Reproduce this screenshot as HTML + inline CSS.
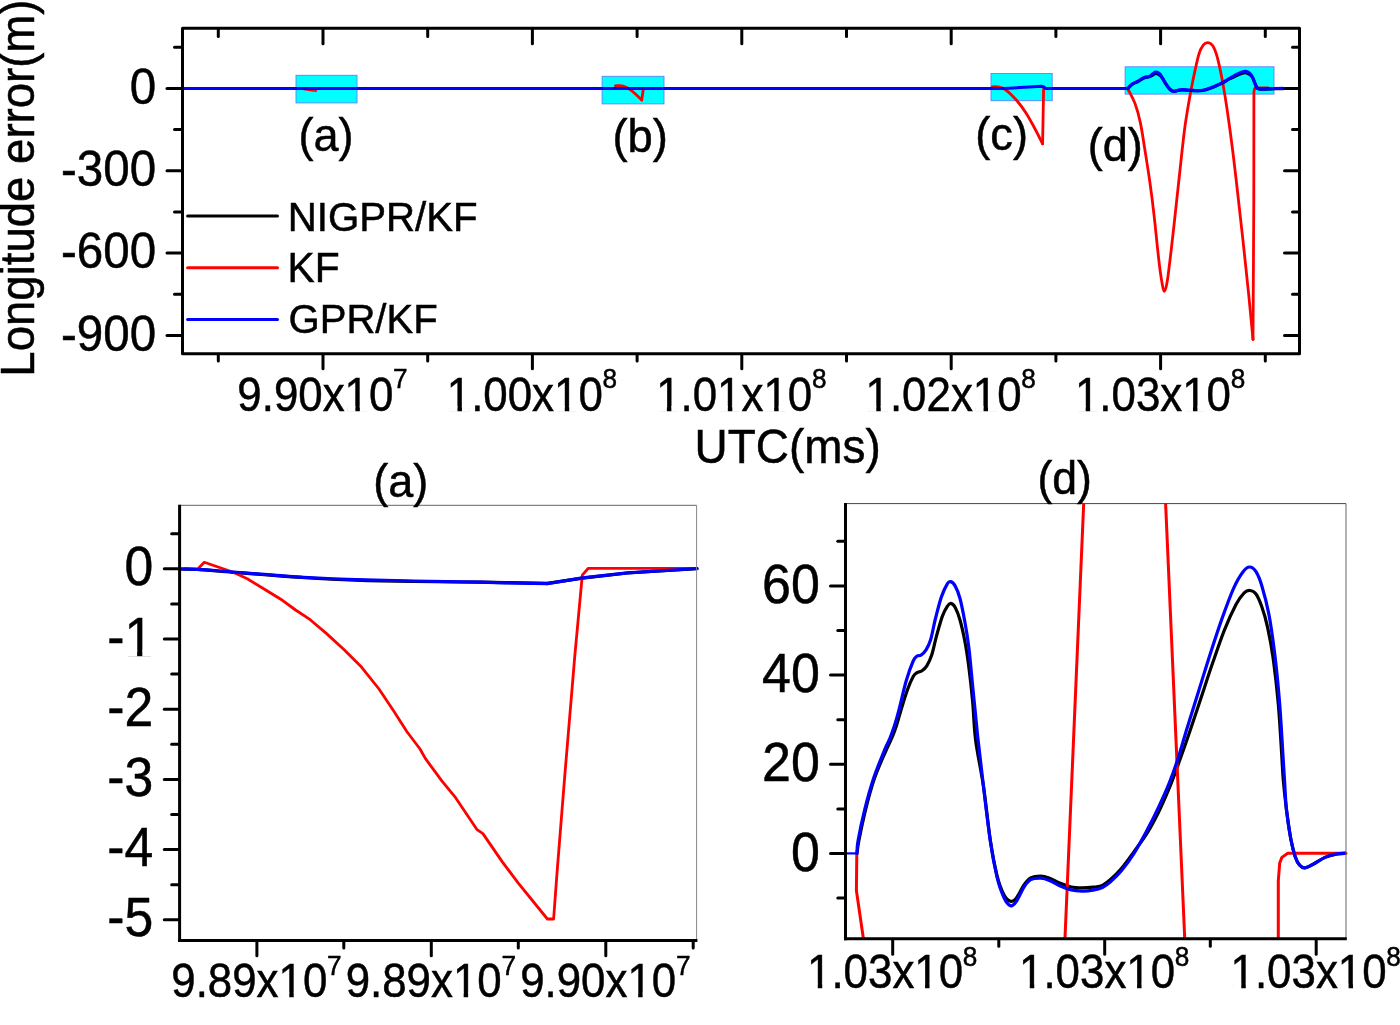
<!DOCTYPE html>
<html><head><meta charset="utf-8"><title>chart</title>
<style>html,body{margin:0;padding:0;background:#fff}svg{display:block;will-change:transform}text{font-family:"Liberation Sans",sans-serif;font-kerning:none}</style></head>
<body>
<svg width="1400" height="1025" viewBox="0 0 1400 1025" font-family="Liberation Sans, sans-serif" style="font-kerning:none">
<defs><clipPath id="cpA"><rect x="181" y="505" width="515.5" height="434"/></clipPath><clipPath id="cpD"><rect x="847" y="503.5" width="499" height="434"/></clipPath><clipPath id="cpT"><rect x="184" y="30" width="1114" height="322"/></clipPath></defs>
<rect width="1400" height="1025" fill="#fff"/>
<rect x="296" y="75.3" width="61.0" height="27.6" fill="#00ffff" stroke="#5f7fff" stroke-width="0.9"/>
<rect x="602.1" y="76.3" width="61.9" height="27.6" fill="#00ffff" stroke="#5f7fff" stroke-width="0.9"/>
<rect x="991" y="73.5" width="61.2" height="27.2" fill="#00ffff" stroke="#5f7fff" stroke-width="0.9"/>
<rect x="1125.1" y="66.8" width="148.9" height="27.3" fill="#00ffff" stroke="#5f7fff" stroke-width="0.9"/>
<polyline points="304.0,89.6 310.0,90.6 316.0,91.3 316.5,89.5" fill="none" stroke="#ff0000" stroke-width="1.5" stroke-linejoin="round" stroke-linecap="round"/>
<path d="M615.4,85.8C616.2,85.8 618.2,85.4 620.0,85.6C621.8,85.8 624.0,86.3 626.0,87.2C628.0,88.1 630.2,89.6 632.0,91.0C633.8,92.4 635.4,94.0 637.0,95.5C638.6,97.0 640.9,99.2 641.7,100.0" fill="none" stroke="#ff0000" stroke-width="2.8" stroke-linejoin="round" stroke-linecap="round"/>
<polyline points="641.7,100.0 643.4,88.5" fill="none" stroke="#ff0000" stroke-width="2.8" stroke-linejoin="round" stroke-linecap="round"/>
<path d="M992.2,87.0C992.8,86.9 994.7,86.5 996.0,86.6C997.3,86.6 998.7,86.9 1000.0,87.3C1001.3,87.7 1002.3,87.8 1004.0,88.8C1005.7,89.8 1007.7,91.3 1010.0,93.5C1012.3,95.7 1015.3,98.8 1018.0,102.0C1020.7,105.2 1023.3,108.8 1026.0,113.0C1028.7,117.2 1031.2,121.9 1034.0,127.0C1036.8,132.1 1041.2,141.0 1042.6,143.8" fill="none" stroke="#ff0000" stroke-width="2.8" stroke-linejoin="round" stroke-linecap="round"/>
<polyline points="1042.6,143.8 1043.6,88.5" fill="none" stroke="#ff0000" stroke-width="2.8" stroke-linejoin="round" stroke-linecap="round"/>
<path d="M1127.9,89.0C1129.1,91.4 1132.9,97.9 1135.0,103.6C1137.1,109.2 1138.8,115.4 1140.4,122.9C1142.0,130.4 1143.1,138.6 1144.7,148.6C1146.3,158.6 1148.4,171.6 1150.0,183.0C1151.6,194.4 1152.9,204.8 1154.3,217.3C1155.7,229.8 1157.3,247.3 1158.6,258.0C1159.8,268.7 1160.8,276.1 1161.8,281.6C1162.8,287.2 1163.5,291.3 1164.4,291.3C1165.3,291.3 1166.0,288.9 1167.2,281.6C1168.4,274.3 1170.1,259.5 1171.5,247.3C1172.9,235.2 1174.4,221.6 1175.8,208.7C1177.2,195.8 1178.6,182.9 1180.0,170.0C1181.4,157.1 1182.9,142.6 1184.3,131.5C1185.7,120.4 1187.2,111.9 1188.6,103.6C1190.0,95.3 1191.0,89.7 1192.7,81.5C1194.4,73.3 1197.0,60.6 1198.8,54.5C1200.5,48.4 1201.8,46.9 1203.4,44.9C1205.0,42.9 1206.5,42.5 1208.1,42.6C1209.7,42.8 1211.2,43.2 1212.8,45.8C1214.4,48.4 1215.7,51.2 1217.5,58.1C1219.3,65.0 1221.4,75.0 1223.5,87.0C1225.6,99.0 1227.9,114.5 1230.0,130.0C1232.1,145.5 1234.2,162.3 1236.2,180.0C1238.3,197.7 1240.4,217.0 1242.5,236.2C1244.6,255.5 1247.0,278.4 1248.8,295.6C1250.5,312.8 1252.3,332.1 1253.0,339.4" fill="none" stroke="#ff0000" stroke-width="2.8" stroke-linejoin="round" stroke-linecap="round"/>
<polyline points="1253.0,339.4 1253.8,200.0 1253.9,92.0 1254.6,88.6 1256.5,87.9 1268.0,87.9" fill="none" stroke="#ff0000" stroke-width="2.8" stroke-linejoin="round" stroke-linecap="round"/>
<polyline points="184.0,88.5 1004.0,88.5 1020.0,87.6 1042.0,86.3 1044.0,87.0 1045.5,88.5 1127.9,88.5" fill="none" stroke="#0000ff" stroke-width="3" stroke-linejoin="round" stroke-linecap="butt"/>
<path d="M1127.9,88.5C1128.7,87.7 1130.0,85.8 1132.1,84.4C1134.2,83.0 1135.8,82.7 1138.2,81.4C1140.6,80.1 1142.1,78.7 1144.3,77.8C1146.5,76.9 1147.4,77.4 1149.1,76.9C1150.8,76.4 1151.5,75.8 1152.8,75.1C1154.1,74.4 1154.5,73.5 1155.8,73.5C1157.1,73.5 1158.2,74.1 1159.5,75.1C1160.8,76.1 1161.2,76.5 1162.5,78.4C1163.8,80.3 1164.6,82.2 1166.1,84.4C1167.6,86.6 1168.3,87.9 1169.8,89.3C1171.3,90.7 1171.9,91.1 1173.4,91.4C1174.9,91.7 1175.4,91.1 1177.1,90.8C1178.8,90.5 1179.2,90.0 1181.9,89.9C1184.6,89.8 1186.8,90.3 1190.4,90.5C1194.0,90.7 1196.7,91.0 1200.1,90.8C1203.5,90.6 1204.5,90.1 1207.4,89.3C1210.3,88.5 1211.8,87.8 1214.7,86.6C1217.6,85.4 1219.1,84.7 1222.0,83.2C1224.9,81.7 1226.4,80.5 1229.3,79.0C1232.2,77.5 1234.2,76.8 1236.6,75.7C1239.0,74.6 1239.6,74.1 1241.4,73.5C1243.2,72.9 1244.1,72.5 1245.7,72.7C1247.3,72.9 1248.0,73.4 1249.3,74.3C1250.6,75.2 1251.3,75.4 1252.4,77.2C1253.5,79.0 1253.8,81.0 1254.8,83.2C1255.8,85.4 1256.0,86.9 1257.2,88.1C1258.4,89.3 1258.7,89.1 1260.9,89.3C1263.1,89.5 1265.3,89.2 1268.1,89.1C1270.9,89.0 1272.0,88.9 1275.0,88.8C1278.0,88.7 1281.4,88.7 1283.0,88.7" fill="none" stroke="#000000" stroke-width="3" stroke-linejoin="round" stroke-linecap="round"/>
<path d="M1127.9,88.2C1128.7,87.4 1130.0,85.5 1132.1,84.1C1134.2,82.7 1135.8,82.4 1138.2,81.1C1140.6,79.8 1142.1,78.4 1144.3,77.5C1146.5,76.6 1147.4,77.3 1149.1,76.6C1150.8,75.9 1151.5,74.7 1152.8,73.8C1154.1,72.9 1154.5,72.2 1155.8,72.2C1157.1,72.2 1158.2,72.6 1159.5,73.8C1160.8,75.0 1161.2,76.0 1162.5,78.1C1163.8,80.2 1164.6,81.9 1166.1,84.1C1167.6,86.3 1168.3,87.6 1169.8,89.0C1171.3,90.4 1171.9,90.8 1173.4,91.1C1174.9,91.4 1175.4,90.8 1177.1,90.5C1178.8,90.2 1179.2,89.7 1181.9,89.6C1184.6,89.5 1186.8,90.0 1190.4,90.2C1194.0,90.4 1196.7,90.7 1200.1,90.5C1203.5,90.3 1204.5,89.8 1207.4,89.0C1210.3,88.2 1211.8,87.5 1214.7,86.3C1217.6,85.1 1219.1,84.4 1222.0,82.9C1224.9,81.4 1226.4,80.4 1229.3,78.7C1232.2,77.0 1234.2,75.7 1236.6,74.4C1239.0,73.1 1239.6,72.8 1241.4,72.2C1243.2,71.6 1244.1,71.2 1245.7,71.4C1247.3,71.6 1248.0,71.9 1249.3,73.0C1250.6,74.1 1251.3,74.9 1252.4,76.9C1253.5,78.9 1253.8,80.7 1254.8,82.9C1255.8,85.1 1256.0,86.6 1257.2,87.8C1258.4,89.0 1258.7,88.8 1260.9,89.0C1263.1,89.2 1265.3,88.9 1268.1,88.8C1270.9,88.7 1272.0,88.6 1275.0,88.5C1278.0,88.4 1281.4,88.4 1283.0,88.4" fill="none" stroke="#0000ff" stroke-width="3.2" stroke-linejoin="round" stroke-linecap="round"/>
<rect x="182.5" y="28.3" width="1117.0" height="325.4" fill="none" stroke="#000" stroke-width="3" stroke-linejoin="round"/>
<line x1="167.00" y1="88.40" x2="182.00" y2="88.40" stroke="#000" stroke-width="3" stroke-linecap="round"/>
<line x1="1284.50" y1="88.40" x2="1299.00" y2="88.40" stroke="#000" stroke-width="3" stroke-linecap="round"/>
<line x1="167.00" y1="170.75" x2="182.00" y2="170.75" stroke="#000" stroke-width="3" stroke-linecap="round"/>
<line x1="1284.50" y1="170.75" x2="1299.00" y2="170.75" stroke="#000" stroke-width="3" stroke-linecap="round"/>
<line x1="167.00" y1="253.10" x2="182.00" y2="253.10" stroke="#000" stroke-width="3" stroke-linecap="round"/>
<line x1="1284.50" y1="253.10" x2="1299.00" y2="253.10" stroke="#000" stroke-width="3" stroke-linecap="round"/>
<line x1="167.00" y1="335.45" x2="182.00" y2="335.45" stroke="#000" stroke-width="3" stroke-linecap="round"/>
<line x1="1284.50" y1="335.45" x2="1299.00" y2="335.45" stroke="#000" stroke-width="3" stroke-linecap="round"/>
<line x1="174.50" y1="47.23" x2="182.00" y2="47.23" stroke="#000" stroke-width="3" stroke-linecap="round"/>
<line x1="1292.50" y1="47.23" x2="1299.00" y2="47.23" stroke="#000" stroke-width="3" stroke-linecap="round"/>
<line x1="174.50" y1="129.58" x2="182.00" y2="129.58" stroke="#000" stroke-width="3" stroke-linecap="round"/>
<line x1="1292.50" y1="129.58" x2="1299.00" y2="129.58" stroke="#000" stroke-width="3" stroke-linecap="round"/>
<line x1="174.50" y1="211.92" x2="182.00" y2="211.92" stroke="#000" stroke-width="3" stroke-linecap="round"/>
<line x1="1292.50" y1="211.92" x2="1299.00" y2="211.92" stroke="#000" stroke-width="3" stroke-linecap="round"/>
<line x1="174.50" y1="294.27" x2="182.00" y2="294.27" stroke="#000" stroke-width="3" stroke-linecap="round"/>
<line x1="1292.50" y1="294.27" x2="1299.00" y2="294.27" stroke="#000" stroke-width="3" stroke-linecap="round"/>
<line x1="323.00" y1="43.70" x2="323.00" y2="28.80" stroke="#000" stroke-width="3" stroke-linecap="round"/>
<line x1="323.00" y1="368.70" x2="323.00" y2="354.20" stroke="#000" stroke-width="3" stroke-linecap="round"/>
<line x1="532.40" y1="43.70" x2="532.40" y2="28.80" stroke="#000" stroke-width="3" stroke-linecap="round"/>
<line x1="532.40" y1="368.70" x2="532.40" y2="354.20" stroke="#000" stroke-width="3" stroke-linecap="round"/>
<line x1="741.80" y1="43.70" x2="741.80" y2="28.80" stroke="#000" stroke-width="3" stroke-linecap="round"/>
<line x1="741.80" y1="368.70" x2="741.80" y2="354.20" stroke="#000" stroke-width="3" stroke-linecap="round"/>
<line x1="951.20" y1="43.70" x2="951.20" y2="28.80" stroke="#000" stroke-width="3" stroke-linecap="round"/>
<line x1="951.20" y1="368.70" x2="951.20" y2="354.20" stroke="#000" stroke-width="3" stroke-linecap="round"/>
<line x1="1160.60" y1="43.70" x2="1160.60" y2="28.80" stroke="#000" stroke-width="3" stroke-linecap="round"/>
<line x1="1160.60" y1="368.70" x2="1160.60" y2="354.20" stroke="#000" stroke-width="3" stroke-linecap="round"/>
<line x1="218.30" y1="36.50" x2="218.30" y2="28.80" stroke="#000" stroke-width="3" stroke-linecap="round"/>
<line x1="218.30" y1="361.10" x2="218.30" y2="354.20" stroke="#000" stroke-width="3" stroke-linecap="round"/>
<line x1="427.70" y1="36.50" x2="427.70" y2="28.80" stroke="#000" stroke-width="3" stroke-linecap="round"/>
<line x1="427.70" y1="361.10" x2="427.70" y2="354.20" stroke="#000" stroke-width="3" stroke-linecap="round"/>
<line x1="637.10" y1="36.50" x2="637.10" y2="28.80" stroke="#000" stroke-width="3" stroke-linecap="round"/>
<line x1="637.10" y1="361.10" x2="637.10" y2="354.20" stroke="#000" stroke-width="3" stroke-linecap="round"/>
<line x1="846.50" y1="36.50" x2="846.50" y2="28.80" stroke="#000" stroke-width="3" stroke-linecap="round"/>
<line x1="846.50" y1="361.10" x2="846.50" y2="354.20" stroke="#000" stroke-width="3" stroke-linecap="round"/>
<line x1="1055.90" y1="36.50" x2="1055.90" y2="28.80" stroke="#000" stroke-width="3" stroke-linecap="round"/>
<line x1="1055.90" y1="361.10" x2="1055.90" y2="354.20" stroke="#000" stroke-width="3" stroke-linecap="round"/>
<line x1="1265.30" y1="36.50" x2="1265.30" y2="28.80" stroke="#000" stroke-width="3" stroke-linecap="round"/>
<line x1="1265.30" y1="361.10" x2="1265.30" y2="354.20" stroke="#000" stroke-width="3" stroke-linecap="round"/>
<text transform="translate(129.72,103.60)  scale(0.9450,1)" font-size="50.30" fill="#000" stroke="#000" stroke-width="0.5">0</text>
<text transform="translate(61.02,185.95)  scale(0.9450,1)" font-size="50.30" fill="#000" stroke="#000" stroke-width="0.5">-300</text>
<text transform="translate(61.02,268.30)  scale(0.9450,1)" font-size="50.30" fill="#000" stroke="#000" stroke-width="0.5">-600</text>
<text transform="translate(61.02,350.65)  scale(0.9450,1)" font-size="50.30" fill="#000" stroke="#000" stroke-width="0.5">-900</text>
<text transform="translate(237.34,410.90)  scale(0.9137,1)" font-size="48.00" fill="#000" stroke="#000" stroke-width="0.5">9.90x10</text>
<rect x="347.17" y="406.01" width="8.19" height="5.79" fill="#fff"/>
<rect x="359.83" y="406.01" width="7.85" height="5.79" fill="#fff"/>
<text transform="translate(393.11,388.30)  scale(0.9500,1)" font-size="27.60" fill="#000" stroke="#000" stroke-width="0.5">7</text>
<text transform="translate(446.74,410.90)  scale(0.9137,1)" font-size="48.00" fill="#000" stroke="#000" stroke-width="0.5">1.00x10</text>
<rect x="449.28" y="406.01" width="8.19" height="5.79" fill="#fff"/>
<rect x="461.95" y="406.01" width="7.85" height="5.79" fill="#fff"/>
<rect x="556.57" y="406.01" width="8.19" height="5.79" fill="#fff"/>
<rect x="569.23" y="406.01" width="7.85" height="5.79" fill="#fff"/>
<text transform="translate(602.51,388.30)  scale(0.9500,1)" font-size="27.60" fill="#000" stroke="#000" stroke-width="0.5">8</text>
<text transform="translate(656.14,410.90)  scale(0.9137,1)" font-size="48.00" fill="#000" stroke="#000" stroke-width="0.5">1.01x10</text>
<rect x="658.68" y="406.01" width="8.19" height="5.79" fill="#fff"/>
<rect x="671.35" y="406.01" width="7.85" height="5.79" fill="#fff"/>
<rect x="719.65" y="406.01" width="8.19" height="5.79" fill="#fff"/>
<rect x="732.31" y="406.01" width="7.85" height="5.79" fill="#fff"/>
<rect x="765.97" y="406.01" width="8.19" height="5.79" fill="#fff"/>
<rect x="778.63" y="406.01" width="7.85" height="5.79" fill="#fff"/>
<text transform="translate(811.91,388.30)  scale(0.9500,1)" font-size="27.60" fill="#000" stroke="#000" stroke-width="0.5">8</text>
<text transform="translate(865.54,410.90)  scale(0.9137,1)" font-size="48.00" fill="#000" stroke="#000" stroke-width="0.5">1.02x10</text>
<rect x="868.08" y="406.01" width="8.19" height="5.79" fill="#fff"/>
<rect x="880.75" y="406.01" width="7.85" height="5.79" fill="#fff"/>
<rect x="975.37" y="406.01" width="8.19" height="5.79" fill="#fff"/>
<rect x="988.03" y="406.01" width="7.85" height="5.79" fill="#fff"/>
<text transform="translate(1021.31,388.30)  scale(0.9500,1)" font-size="27.60" fill="#000" stroke="#000" stroke-width="0.5">8</text>
<text transform="translate(1074.94,410.90)  scale(0.9137,1)" font-size="48.00" fill="#000" stroke="#000" stroke-width="0.5">1.03x10</text>
<rect x="1077.48" y="406.01" width="8.19" height="5.79" fill="#fff"/>
<rect x="1090.15" y="406.01" width="7.85" height="5.79" fill="#fff"/>
<rect x="1184.77" y="406.01" width="8.19" height="5.79" fill="#fff"/>
<rect x="1197.43" y="406.01" width="7.85" height="5.79" fill="#fff"/>
<text transform="translate(1230.71,388.30)  scale(0.9500,1)" font-size="27.60" fill="#000" stroke="#000" stroke-width="0.5">8</text>
<text transform="translate(298.45,151.06)  scale(0.9632,1)" font-size="46.80" fill="#000" stroke="#000" stroke-width="0.5">(a)</text>
<text transform="translate(612.44,151.52)  scale(0.9848,1)" font-size="46.05" fill="#000" stroke="#000" stroke-width="0.5">(b)</text>
<text transform="translate(975.25,149.76)  scale(0.9862,1)" font-size="45.83" fill="#000" stroke="#000" stroke-width="0.5">(c)</text>
<text transform="translate(1087.65,160.61)  scale(0.9676,1)" font-size="46.58" fill="#000" stroke="#000" stroke-width="0.5">(d)</text>
<line x1="187.60" y1="215.90" x2="277.50" y2="215.90" stroke="#000000" stroke-width="3" stroke-linecap="round"/>
<line x1="187.60" y1="267.70" x2="277.50" y2="267.70" stroke="#ff0000" stroke-width="3" stroke-linecap="round"/>
<line x1="187.60" y1="319.50" x2="277.50" y2="319.50" stroke="#0000ff" stroke-width="3" stroke-linecap="round"/>
<text transform="translate(287.65,230.56)  scale(0.9982,1)" font-size="40.31" fill="#000" stroke="#000" stroke-width="0.5">NIGPR/KF</text>
<text transform="translate(287.61,281.65)  scale(0.9769,1)" font-size="41.72" fill="#000" stroke="#000" stroke-width="0.5">KF</text>
<text transform="translate(288.53,333.24)  scale(0.9651,1)" font-size="41.53" fill="#000" stroke="#000" stroke-width="0.5">GPR/KF</text>
<text transform="translate(694.60,463.39)  scale(0.9556,1)" font-size="48.09" fill="#000" stroke="#000" stroke-width="0.5">UTC(ms)</text>
<text transform="translate(34.0,376.64) rotate(-90) scale(0.9567,1)" font-size="47.6" stroke="#000" stroke-width="0.5">Longitude error(m)</text>
<path d="M181.0,569.0C183.8,569.1 189.0,568.9 197.6,569.4C206.2,569.9 221.0,571.4 232.7,572.3C244.4,573.2 255.1,574.0 267.8,575.0C280.5,576.0 294.2,577.1 308.8,578.0C323.4,578.9 338.1,579.6 355.6,580.2C373.1,580.8 393.3,581.2 414.0,581.5C434.7,581.8 457.8,581.9 480.0,582.2C502.2,582.5 536.2,583.2 547.4,583.4" fill="none" stroke="#000000" stroke-width="3.2" stroke-linejoin="round" stroke-linecap="round" clip-path="url(#cpA)"/>
<polyline points="547.4,583.4 582.5,578.2 627.4,573.0 697.0,568.7" fill="none" stroke="#000000" stroke-width="3.2" stroke-linejoin="round" stroke-linecap="round"/>
<polyline points="199.0,567.8 204.3,562.3 218.0,567.0 232.7,572.0 247.3,578.7 264.9,589.5 282.4,600.3 295.6,610.0 310.2,619.7 326.3,633.4 343.9,649.5 361.5,667.1 379.0,689.0 393.7,711.0 406.8,731.5 420.0,749.0 425.3,758.4 442.0,781.2 455.6,797.7 477.1,829.7 482.9,833.6 502.5,862.1 518.1,882.8 547.4,919.0 553.6,919.0 557.1,871.8 564.9,774.2 574.7,657.1 582.3,575.1 588.3,568.3 696.5,568.3" fill="none" stroke="#ff0000" stroke-width="2.8" stroke-linejoin="round" stroke-linecap="round"/>
<path d="M181.0,569.0C183.8,569.0 189.0,568.8 197.6,569.3C206.2,569.8 221.0,571.1 232.7,572.0C244.4,572.9 255.1,573.7 267.8,574.6C280.5,575.5 294.2,576.7 308.8,577.5C323.4,578.3 338.1,579.0 355.6,579.6C373.1,580.2 393.3,580.6 414.0,581.0C434.7,581.4 457.8,581.8 480.0,582.2C502.2,582.7 536.2,583.5 547.4,583.7" fill="none" stroke="#0000ff" stroke-width="3.2" stroke-linejoin="round" stroke-linecap="round" clip-path="url(#cpA)"/>
<polyline points="547.4,583.7 582.5,577.9 627.4,572.8 697.0,568.5" fill="none" stroke="#0000ff" stroke-width="3.2" stroke-linejoin="round" stroke-linecap="round"/>
<line x1="179.60" y1="505.30" x2="696.60" y2="505.30" stroke="#666" stroke-width="1" stroke-linecap="butt"/>
<line x1="696.60" y1="505.30" x2="696.60" y2="940.60" stroke="#888" stroke-width="1" stroke-linecap="butt"/>
<line x1="179.60" y1="504.80" x2="179.60" y2="942.10" stroke="#000" stroke-width="3" stroke-linecap="butt"/>
<line x1="178.10" y1="940.60" x2="697.40" y2="940.60" stroke="#000" stroke-width="3" stroke-linecap="butt"/>
<line x1="164.30" y1="568.80" x2="179.10" y2="568.80" stroke="#000" stroke-width="3" stroke-linecap="round"/>
<line x1="164.30" y1="639.00" x2="179.10" y2="639.00" stroke="#000" stroke-width="3" stroke-linecap="round"/>
<line x1="164.30" y1="709.20" x2="179.10" y2="709.20" stroke="#000" stroke-width="3" stroke-linecap="round"/>
<line x1="164.30" y1="779.40" x2="179.10" y2="779.40" stroke="#000" stroke-width="3" stroke-linecap="round"/>
<line x1="164.30" y1="849.60" x2="179.10" y2="849.60" stroke="#000" stroke-width="3" stroke-linecap="round"/>
<line x1="164.30" y1="919.80" x2="179.10" y2="919.80" stroke="#000" stroke-width="3" stroke-linecap="round"/>
<line x1="171.70" y1="533.70" x2="179.10" y2="533.70" stroke="#000" stroke-width="3" stroke-linecap="round"/>
<line x1="171.70" y1="603.90" x2="179.10" y2="603.90" stroke="#000" stroke-width="3" stroke-linecap="round"/>
<line x1="171.70" y1="674.10" x2="179.10" y2="674.10" stroke="#000" stroke-width="3" stroke-linecap="round"/>
<line x1="171.70" y1="744.30" x2="179.10" y2="744.30" stroke="#000" stroke-width="3" stroke-linecap="round"/>
<line x1="171.70" y1="814.50" x2="179.10" y2="814.50" stroke="#000" stroke-width="3" stroke-linecap="round"/>
<line x1="171.70" y1="884.70" x2="179.10" y2="884.70" stroke="#000" stroke-width="3" stroke-linecap="round"/>
<line x1="256.90" y1="955.80" x2="256.90" y2="941.10" stroke="#000" stroke-width="3" stroke-linecap="round"/>
<line x1="431.30" y1="955.80" x2="431.30" y2="941.10" stroke="#000" stroke-width="3" stroke-linecap="round"/>
<line x1="605.80" y1="955.80" x2="605.80" y2="941.10" stroke="#000" stroke-width="3" stroke-linecap="round"/>
<line x1="343.80" y1="948.00" x2="343.80" y2="941.10" stroke="#000" stroke-width="3" stroke-linecap="round"/>
<line x1="518.30" y1="948.00" x2="518.30" y2="941.10" stroke="#000" stroke-width="3" stroke-linecap="round"/>
<line x1="693.20" y1="948.00" x2="693.20" y2="941.10" stroke="#000" stroke-width="3" stroke-linecap="round"/>
<text transform="translate(124.44,585.40)  scale(0.9350,1)" font-size="55.30" fill="#000" stroke="#000" stroke-width="0.5">0</text>
<text transform="translate(107.23,655.60)  scale(0.9350,1)" font-size="55.30" fill="#000" stroke="#000" stroke-width="0.5">-1</text>
<rect x="127.58" y="650.17" width="9.56" height="6.33" fill="#fff"/>
<rect x="142.32" y="650.17" width="9.16" height="6.33" fill="#fff"/>
<text transform="translate(107.23,725.80)  scale(0.9350,1)" font-size="55.30" fill="#000" stroke="#000" stroke-width="0.5">-2</text>
<text transform="translate(107.23,796.00)  scale(0.9350,1)" font-size="55.30" fill="#000" stroke="#000" stroke-width="0.5">-3</text>
<text transform="translate(107.23,866.20)  scale(0.9350,1)" font-size="55.30" fill="#000" stroke="#000" stroke-width="0.5">-4</text>
<text transform="translate(107.23,936.40)  scale(0.9350,1)" font-size="55.30" fill="#000" stroke="#000" stroke-width="0.5">-5</text>
<text transform="translate(171.24,997.40)  scale(0.9137,1)" font-size="48.00" fill="#000" stroke="#000" stroke-width="0.5">9.89x10</text>
<rect x="281.07" y="992.51" width="8.19" height="5.79" fill="#fff"/>
<rect x="293.73" y="992.51" width="7.85" height="5.79" fill="#fff"/>
<text transform="translate(327.01,974.80)  scale(0.9500,1)" font-size="27.60" fill="#000" stroke="#000" stroke-width="0.5">7</text>
<text transform="translate(345.64,997.40)  scale(0.9137,1)" font-size="48.00" fill="#000" stroke="#000" stroke-width="0.5">9.89x10</text>
<rect x="455.47" y="992.51" width="8.19" height="5.79" fill="#fff"/>
<rect x="468.13" y="992.51" width="7.85" height="5.79" fill="#fff"/>
<text transform="translate(501.41,974.80)  scale(0.9500,1)" font-size="27.60" fill="#000" stroke="#000" stroke-width="0.5">7</text>
<text transform="translate(520.14,997.40)  scale(0.9137,1)" font-size="48.00" fill="#000" stroke="#000" stroke-width="0.5">9.90x10</text>
<rect x="629.97" y="992.51" width="8.19" height="5.79" fill="#fff"/>
<rect x="642.63" y="992.51" width="7.85" height="5.79" fill="#fff"/>
<text transform="translate(675.91,974.80)  scale(0.9500,1)" font-size="27.60" fill="#000" stroke="#000" stroke-width="0.5">7</text>
<text transform="translate(373.36,496.87)  scale(0.9724,1)" font-size="46.26" fill="#000" stroke="#000" stroke-width="0.5">(a)</text>
<path d="M857.0,853.4C857.3,851.3 857.4,848.2 858.8,841.0C860.2,833.8 862.9,820.5 865.5,810.0C868.1,799.5 871.1,788.2 874.5,778.3C877.9,768.4 883.0,757.5 886.0,750.5C889.0,743.5 890.9,740.3 892.7,736.0C894.5,731.7 895.5,728.5 896.8,724.5C898.1,720.5 898.8,717.4 900.5,711.7C902.2,706.0 905.2,696.1 907.3,690.2C909.4,684.4 911.6,679.5 913.2,676.6C914.8,673.7 915.6,673.7 917.1,672.7C918.6,671.7 920.4,671.8 922.0,670.7C923.6,669.6 925.2,668.5 926.8,665.9C928.4,663.3 930.1,660.1 931.7,655.1C933.3,650.1 934.8,642.1 936.6,635.6C938.4,629.1 940.6,621.0 942.4,616.1C944.2,611.2 945.9,608.4 947.3,606.3C948.7,604.2 949.5,603.2 950.8,603.4C952.1,603.6 953.6,604.5 955.1,607.3C956.6,610.1 958.4,614.3 960.0,620.0C961.6,625.7 963.4,633.7 964.9,641.5C966.4,649.3 967.5,656.7 968.8,666.8C970.1,676.9 971.6,689.8 972.7,702.0C973.8,714.2 973.8,725.8 975.6,740.0C977.4,754.2 981.2,770.6 983.6,787.3C986.0,804.0 988.1,825.3 990.3,840.0C992.5,854.7 994.8,866.4 997.0,875.5C999.2,884.6 1001.5,890.2 1003.8,894.5C1006.0,898.8 1008.5,900.6 1010.5,901.3C1012.5,902.0 1013.9,901.2 1016.1,898.5C1018.4,895.8 1021.6,888.4 1024.0,885.0C1026.4,881.6 1027.9,879.5 1030.7,878.0C1033.5,876.5 1037.7,876.1 1040.8,876.1C1043.9,876.1 1046.2,877.0 1049.4,878.2C1052.7,879.4 1056.7,881.8 1060.3,883.3C1063.9,884.8 1067.6,886.2 1071.2,887.0C1074.8,887.8 1078.4,887.8 1082.1,887.8C1085.8,887.8 1090.0,887.5 1093.1,887.2C1096.2,886.9 1098.1,887.2 1100.9,886.0C1103.8,884.8 1106.8,882.6 1110.2,879.7C1113.6,876.8 1117.3,873.4 1121.2,868.8C1125.1,864.2 1129.3,858.2 1133.7,852.1C1138.1,846.0 1143.3,839.3 1147.7,832.1C1152.1,824.9 1156.3,816.8 1160.2,808.7C1164.1,800.6 1167.8,791.8 1171.1,783.7C1174.3,775.6 1176.7,768.7 1179.7,760.3C1182.7,751.9 1185.7,743.6 1189.2,733.3C1192.7,722.9 1197.0,709.9 1200.9,698.2C1204.8,686.5 1208.7,674.4 1212.6,663.1C1216.5,651.8 1220.4,640.1 1224.3,630.3C1228.2,620.5 1232.7,610.8 1236.0,604.5C1239.3,598.2 1241.9,595.1 1244.2,592.8C1246.5,590.5 1248.1,590.3 1250.1,590.5C1252.1,590.7 1254.0,591.3 1256.0,594.0C1258.0,596.7 1259.8,601.1 1261.8,606.8C1263.8,612.4 1265.8,618.9 1267.7,627.9C1269.7,636.9 1271.8,648.2 1273.5,660.7C1275.2,673.2 1276.8,687.3 1278.2,702.9C1279.6,718.5 1280.9,741.5 1281.7,754.4C1282.5,767.2 1282.5,770.9 1283.3,780.0C1284.1,789.1 1285.2,799.4 1286.4,809.2C1287.7,819.0 1289.3,831.0 1290.8,839.0C1292.3,847.0 1293.8,852.5 1295.3,856.9C1296.8,861.3 1298.1,863.4 1299.7,865.2C1301.3,867.0 1302.6,868.0 1304.8,867.9C1307.0,867.8 1309.7,866.0 1313.1,864.3C1316.5,862.5 1321.0,859.1 1325.0,857.4C1329.0,855.7 1333.4,854.6 1336.9,853.9C1340.4,853.2 1344.5,853.4 1346.0,853.3" fill="none" stroke="#000000" stroke-width="3.2" stroke-linejoin="round" stroke-linecap="round" clip-path="url(#cpD)"/>
<polyline points="856.8,853.9 856.4,890.5 863.3,938.0" fill="none" stroke="#ff0000" stroke-width="3.0" stroke-linejoin="round" stroke-linecap="round"/>
<polyline points="1083.7,503.3 1065.0,938.0" fill="none" stroke="#ff0000" stroke-width="3.0" stroke-linejoin="round" stroke-linecap="butt"/>
<polyline points="1165.6,503.3 1184.7,938.0" fill="none" stroke="#ff0000" stroke-width="3.0" stroke-linejoin="round" stroke-linecap="butt"/>
<polyline points="1278.3,938.0 1278.3,880.7 1279.7,863.0 1281.9,857.4 1287.8,853.2 1346.0,853.2" fill="none" stroke="#ff0000" stroke-width="3.0" stroke-linejoin="round" stroke-linecap="round"/>
<polyline points="847.0,853.4 857.0,853.4" fill="none" stroke="#0000ff" stroke-width="2.2" stroke-linejoin="round" stroke-linecap="butt"/>
<path d="M857.0,853.4C857.2,851.4 856.7,848.4 858.0,841.1C859.3,833.8 862.1,820.2 864.7,809.7C867.3,799.2 870.2,788.4 873.6,778.3C877.0,768.2 882.2,755.8 884.9,749.2C887.6,742.6 888.2,742.5 889.8,738.5C891.4,734.5 893.0,730.0 894.5,725.5C896.0,721.0 896.5,719.2 898.5,711.7C900.5,704.2 903.8,689.0 906.3,680.5C908.8,672.0 911.4,665.1 913.2,661.0C915.0,656.9 915.8,657.1 917.1,656.1C918.4,655.1 919.5,656.1 921.0,655.1C922.5,654.1 924.3,652.8 925.9,650.2C927.5,647.6 929.1,644.9 930.7,639.5C932.3,634.1 933.8,625.1 935.6,618.0C937.4,610.9 939.5,602.3 941.5,596.6C943.5,590.9 945.8,586.4 947.3,583.9C948.8,581.4 949.3,581.3 950.6,581.6C951.9,581.9 953.5,583.1 955.1,585.9C956.7,588.7 958.4,592.5 960.0,598.5C961.6,604.5 963.4,613.9 964.9,622.0C966.4,630.1 967.5,636.6 968.8,647.3C970.1,658.0 971.4,673.3 972.7,686.3C974.0,699.3 975.7,716.4 976.6,725.4C977.5,734.4 976.9,729.7 978.1,740.0C979.3,750.3 981.6,770.4 983.6,787.3C985.6,804.1 988.1,826.1 990.3,841.1C992.5,856.1 994.8,867.6 997.0,877.0C999.2,886.4 1001.5,892.4 1003.8,897.2C1006.0,902.0 1008.5,905.0 1010.5,905.7C1012.5,906.5 1013.9,904.8 1016.1,901.7C1018.4,898.6 1021.6,890.8 1024.0,887.1C1026.4,883.4 1027.9,881.2 1030.7,879.7C1033.5,878.2 1037.7,878.1 1040.8,878.2C1043.9,878.3 1046.2,879.2 1049.4,880.5C1052.7,881.8 1056.7,884.4 1060.3,886.0C1063.9,887.6 1067.6,889.0 1071.2,889.9C1074.8,890.8 1078.4,891.0 1082.1,891.1C1085.8,891.2 1089.7,890.8 1093.1,890.2C1096.5,889.6 1099.6,888.9 1102.4,887.5C1105.2,886.1 1107.1,884.8 1110.2,882.1C1113.3,879.4 1117.3,875.8 1121.2,871.1C1125.1,866.4 1129.6,860.5 1133.7,854.0C1137.8,847.5 1141.9,839.9 1146.1,832.1C1150.2,824.3 1154.7,815.4 1158.6,807.1C1162.5,798.8 1166.5,789.9 1169.6,782.1C1172.7,774.3 1174.5,769.2 1177.4,760.3C1180.3,751.4 1183.4,740.2 1186.9,728.7C1190.4,717.2 1194.7,703.7 1198.6,691.2C1202.5,678.7 1206.4,665.8 1210.3,653.7C1214.2,641.6 1218.1,629.5 1222.0,618.6C1225.9,607.7 1230.2,595.9 1233.7,588.1C1237.2,580.3 1240.4,575.2 1243.1,571.7C1245.8,568.2 1247.4,567.0 1249.6,567.0C1251.8,567.0 1254.0,568.6 1256.0,571.7C1258.0,574.8 1259.7,578.8 1261.8,585.8C1263.9,592.8 1266.6,602.6 1268.8,613.9C1271.0,625.2 1272.9,639.3 1274.7,653.7C1276.5,668.1 1278.0,683.7 1279.4,700.5C1280.8,717.3 1282.1,741.1 1282.9,754.4C1283.8,767.6 1283.9,770.9 1284.5,780.0C1285.1,789.1 1285.4,799.4 1286.4,809.2C1287.5,819.0 1289.3,831.0 1290.8,839.0C1292.3,847.0 1293.8,852.5 1295.3,856.9C1296.8,861.3 1298.1,863.4 1299.7,865.2C1301.3,867.0 1302.6,868.0 1304.8,867.9C1307.0,867.8 1309.7,866.0 1313.1,864.3C1316.5,862.5 1321.0,859.1 1325.0,857.4C1329.0,855.7 1333.4,854.6 1336.9,853.9C1340.4,853.2 1344.5,853.4 1346.0,853.3" fill="none" stroke="#0000ff" stroke-width="3.2" stroke-linejoin="round" stroke-linecap="round" clip-path="url(#cpD)"/>
<line x1="845.50" y1="503.60" x2="1346.00" y2="503.60" stroke="#444" stroke-width="1" stroke-linecap="butt"/>
<line x1="1346.00" y1="503.60" x2="1346.00" y2="938.70" stroke="#666" stroke-width="1" stroke-linecap="butt"/>
<line x1="845.50" y1="503.10" x2="845.50" y2="940.20" stroke="#000" stroke-width="3" stroke-linecap="butt"/>
<line x1="844.00" y1="938.70" x2="1346.80" y2="938.70" stroke="#000" stroke-width="3" stroke-linecap="butt"/>
<line x1="830.50" y1="585.90" x2="845.00" y2="585.90" stroke="#000" stroke-width="3" stroke-linecap="round"/>
<line x1="830.50" y1="675.10" x2="845.00" y2="675.10" stroke="#000" stroke-width="3" stroke-linecap="round"/>
<line x1="830.50" y1="764.30" x2="845.00" y2="764.30" stroke="#000" stroke-width="3" stroke-linecap="round"/>
<line x1="830.50" y1="853.50" x2="845.00" y2="853.50" stroke="#000" stroke-width="3" stroke-linecap="round"/>
<line x1="837.80" y1="541.30" x2="845.00" y2="541.30" stroke="#000" stroke-width="3" stroke-linecap="round"/>
<line x1="837.80" y1="630.50" x2="845.00" y2="630.50" stroke="#000" stroke-width="3" stroke-linecap="round"/>
<line x1="837.80" y1="719.70" x2="845.00" y2="719.70" stroke="#000" stroke-width="3" stroke-linecap="round"/>
<line x1="837.80" y1="808.90" x2="845.00" y2="808.90" stroke="#000" stroke-width="3" stroke-linecap="round"/>
<line x1="837.80" y1="898.10" x2="845.00" y2="898.10" stroke="#000" stroke-width="3" stroke-linecap="round"/>
<line x1="892.70" y1="954.20" x2="892.70" y2="939.20" stroke="#000" stroke-width="3" stroke-linecap="round"/>
<line x1="1104.70" y1="954.20" x2="1104.70" y2="939.20" stroke="#000" stroke-width="3" stroke-linecap="round"/>
<line x1="1316.20" y1="954.20" x2="1316.20" y2="939.20" stroke="#000" stroke-width="3" stroke-linecap="round"/>
<line x1="998.80" y1="946.20" x2="998.80" y2="939.20" stroke="#000" stroke-width="3" stroke-linecap="round"/>
<line x1="1210.30" y1="946.20" x2="1210.30" y2="939.20" stroke="#000" stroke-width="3" stroke-linecap="round"/>
<text transform="translate(762.01,602.90)  scale(0.9350,1)" font-size="55.60" fill="#000" stroke="#000" stroke-width="0.5">60</text>
<text transform="translate(762.01,692.10)  scale(0.9350,1)" font-size="55.60" fill="#000" stroke="#000" stroke-width="0.5">40</text>
<text transform="translate(762.01,781.30)  scale(0.9350,1)" font-size="55.60" fill="#000" stroke="#000" stroke-width="0.5">20</text>
<text transform="translate(790.92,870.50)  scale(0.9350,1)" font-size="55.60" fill="#000" stroke="#000" stroke-width="0.5">0</text>
<text transform="translate(807.04,988.40)  scale(0.9137,1)" font-size="48.00" fill="#000" stroke="#000" stroke-width="0.5">1.03x10</text>
<rect x="809.58" y="983.51" width="8.19" height="5.79" fill="#fff"/>
<rect x="822.25" y="983.51" width="7.85" height="5.79" fill="#fff"/>
<rect x="916.87" y="983.51" width="8.19" height="5.79" fill="#fff"/>
<rect x="929.53" y="983.51" width="7.85" height="5.79" fill="#fff"/>
<text transform="translate(962.81,965.80)  scale(0.9500,1)" font-size="27.60" fill="#000" stroke="#000" stroke-width="0.5">8</text>
<text transform="translate(1019.04,988.40)  scale(0.9137,1)" font-size="48.00" fill="#000" stroke="#000" stroke-width="0.5">1.03x10</text>
<rect x="1021.58" y="983.51" width="8.19" height="5.79" fill="#fff"/>
<rect x="1034.25" y="983.51" width="7.85" height="5.79" fill="#fff"/>
<rect x="1128.87" y="983.51" width="8.19" height="5.79" fill="#fff"/>
<rect x="1141.53" y="983.51" width="7.85" height="5.79" fill="#fff"/>
<text transform="translate(1174.81,965.80)  scale(0.9500,1)" font-size="27.60" fill="#000" stroke="#000" stroke-width="0.5">8</text>
<text transform="translate(1230.54,988.40)  scale(0.9137,1)" font-size="48.00" fill="#000" stroke="#000" stroke-width="0.5">1.03x10</text>
<rect x="1233.08" y="983.51" width="8.19" height="5.79" fill="#fff"/>
<rect x="1245.75" y="983.51" width="7.85" height="5.79" fill="#fff"/>
<rect x="1340.37" y="983.51" width="8.19" height="5.79" fill="#fff"/>
<rect x="1353.03" y="983.51" width="7.85" height="5.79" fill="#fff"/>
<text transform="translate(1386.31,965.80)  scale(0.9500,1)" font-size="27.60" fill="#000" stroke="#000" stroke-width="0.5">8</text>
<text transform="translate(1037.38,493.67)  scale(0.9645,1)" font-size="46.26" fill="#000" stroke="#000" stroke-width="0.5">(d)</text>
</svg>
</body></html>
